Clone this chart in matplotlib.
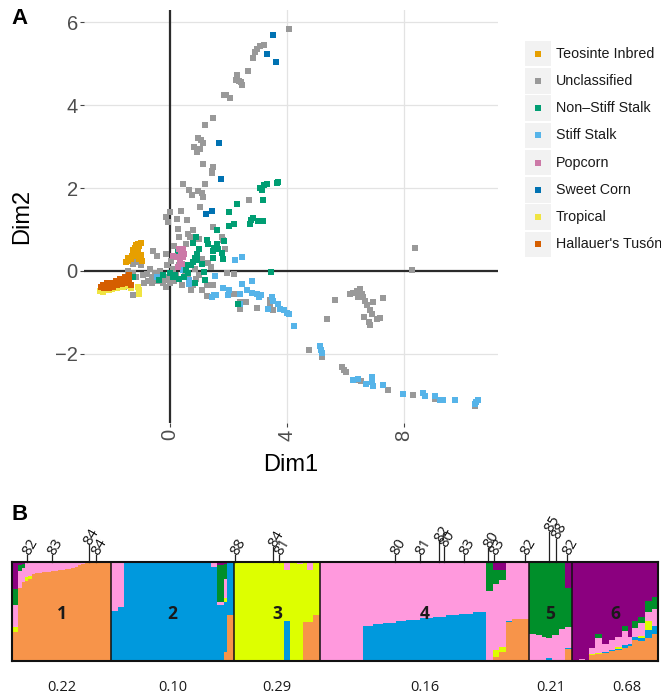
import matplotlib
matplotlib.use('Agg')
import matplotlib.pyplot as plt
from matplotlib.patches import Rectangle

plt.rcParams['font.family'] = ['Liberation Sans', 'DejaVu Sans']

# ---------------- Panel A data ----------------
categories = ["Teosinte Inbred", "Unclassified", "Non\u2013Stiff Stalk", "Stiff Stalk",
              "Popcorn", "Sweet Corn", "Tropical", "Hallauer's Tus\u00f3n"]
cat_colors = ["#E69F00", "#999999", "#009E73", "#56B4E9",
              "#CC79A7", "#0072B2", "#F0E442", "#D55E00"]

unclassified_xy = [
    (4.08, 5.83), (3.22, 5.45), (3.08, 5.42), (2.98, 5.36), (2.9, 5.28), (2.83, 5.15), (2.68, 4.83),
    (2.3, 4.72), (2.25, 4.62), (2.35, 4.58), (2.42, 4.55), (2.45, 4.48), (2.05, 4.17), (1.92, 4.24),
    (1.85, 4.25), (1.46, 3.70), (1.20, 3.52), (0.97, 3.22), (1.14, 3.08), (1.07, 3.15), (0.82, 3.0),
    (0.91, 2.88), (1.02, 2.95), (1.12, 2.59), (1.48, 2.52), (1.42, 2.36), (1.45, 2.42), (0.43, 2.11),
    (1.2, 2.11), (0.66, 1.95), (0.74, 1.83), (0.97, 1.92), (1.08, 1.88), (1.12, 1.78), (1.03, 1.55),
    (0.36, 1.45), (-0.14, 1.30), (0.0, 1.43), (-0.06, 1.18), (0.57, 1.22), (0.28, 1.02), (1.48, 1.06),
    (0.77, 0.98), (0.32, 0.82), (0.68, 0.81), (1.77, 0.81), (1.82, 0.74), (1.88, 0.52), (1.6, 0.58),
    (2.71, 1.72), (0.55, 0.65), (0.15, 0.6), (0.62, 0.9), (0.25, 1.25), (1.0, 0.78),
    (-0.59, 0.48), (-0.46, 0.36), (-0.14, 0.40), (-1.12, 0.32), (-1.08, 0.22), (-1.28, 0.18),
    (-1.0, 0.15), (-1.42, 0.0), (-1.25, -0.05), (-0.93, -0.1), (-0.8, -0.08), (-0.63, -0.14),
    (-0.5, -0.05), (-0.35, 0.0), (-0.75, -0.25), (-0.6, -0.28), (-0.4, -0.25), (-0.2, -0.22),
    (-0.14, -0.38), (-1.65, -0.22), (-1.57, -0.39), (-1.28, -0.58), (-0.9, -0.3), (-0.3, -0.1),
    (0.1, 0.05), (0.2, -0.1), (0.3, 0.15), (0.5, 0.0), (0.6, -0.1), (0.71, -0.47), (0.65, -0.3),
    (0.9, -0.2), (1.0, -0.1), (1.25, -0.35), (1.48, -0.35), (1.25, -0.6), (1.94, -0.06), (2.17, -0.08),
    (2.17, -0.55), (2.39, -0.75), (2.39, -0.91), (2.6, -0.75), (2.96, -0.89), (3.42, -0.71),
    (3.42, -0.83), (3.53, -0.95), (0.0, -0.3), (-0.1, 0.15), (0.4, -0.35), (0.85, 0.05), (1.1, 0.3),
    (1.3, 0.2), (0.05, 0.25), (-0.55, -0.2), (-0.25, -0.3), (-0.7, 0.05), (-1.15, -0.15),
    (0.15, -0.25), (0.8, -0.35), (1.1, -0.45), (-0.05, -0.15), (1.4, 0.1), (0.45, 0.35),
    (4.76, -1.90), (5.19, -2.08), (5.36, -1.15), (5.65, -0.71), (5.87, -2.32), (5.93, -2.4),
    (6.02, -2.45), (6.42, -2.62), (6.52, -2.65), (7.46, -2.87), (8.3, -3.0), (9.06, -3.08),
    (10.43, -3.27), (8.26, 0.02), (8.38, 0.56),
    (6.15, -0.55), (6.27, -0.53), (6.38, -0.48), (6.5, -0.43), (6.55, -0.55), (6.44, -0.62),
    (6.6, -0.62), (6.65, -0.72), (6.72, -0.81), (6.95, -0.75), (7.29, -0.65), (6.84, -0.95),
    (6.9, -1.05), (6.84, -1.31), (6.63, -1.11), (6.81, -1.23), (7.07, -1.15), (7.18, -1.13),
]

stiff_stalk_xy = [
    (2.22, 0.26), (2.45, 0.34), (1.54, -0.13), (1.82, -0.40), (2.03, -0.45), (1.99, -0.59),
    (2.45, -0.31), (2.81, -0.24), (2.62, -0.47), (2.79, -0.53), (2.96, -0.55), (3.05, -0.63),
    (3.12, -0.58), (3.48, -0.64), (3.52, -0.72), (3.36, -0.91), (3.70, -0.79), (3.76, -0.91),
    (3.9, -0.95), (3.99, -1.01), (4.08, -1.05), (4.24, -1.34), (2.39, -0.55), (2.39, -0.8),
    (1.5, -0.59), (1.42, -0.63), (1.58, -0.58), (0.66, -0.32), (0.66, -0.21), (0.43, 0.02),
    (-0.46, -0.14), (5.13, -1.80), (5.15, -1.90), (5.19, -1.98), (6.24, -2.64), (6.44, -2.6),
    (6.70, -2.72), (6.89, -2.56), (6.92, -2.68), (6.94, -2.78), (7.27, -2.76), (7.98, -2.96),
    (8.64, -2.95), (8.72, -3.03), (9.06, -3.03), (9.23, -3.11), (9.33, -3.11), (9.74, -3.12),
    (10.46, -3.16), (10.54, -3.12), (10.43, -3.2),
]

non_stiff_xy = [
    (3.65, 2.13), (3.68, 2.15), (3.30, 2.11), (3.21, 2.07), (3.08, 2.01), (3.14, 1.96), (3.17, 1.71),
    (2.28, 1.61), (2.03, 1.43), (2.03, 1.08), (2.17, 1.13), (2.76, 1.22), (2.85, 1.29), (3.02, 1.21),
    (3.17, 1.21), (2.73, 1.13), (1.62, 0.98), (1.85, 0.72), (1.6, 0.66), (1.31, 0.64), (1.5, 0.56),
    (1.65, 0.54), (1.48, 0.48), (1.76, 0.44), (1.82, 0.30), (1.46, 0.32), (0.89, 0.82), (0.77, 0.68),
    (1.0, 0.54), (0.91, 0.42), (0.85, 0.32), (0.93, 0.26), (0.77, 0.22), (0.71, 0.14), (0.57, 0.14),
    (0.55, 0.02), (0.63, -0.06), (0.48, -0.14), (0.32, -0.19), (0.11, -0.14), (0.17, -0.1),
    (0.0, -0.06), (0.28, 0.46), (-0.23, -0.1), (-0.36, -0.21), (-1.28, -0.14), (0.85, -0.29),
    (1.2, -0.21), (1.16, -0.02), (3.44, -0.02), (2.34, -0.79), (0.4, 0.18), (1.08, 0.18), (1.25, 0.74),
]

popcorn_xy = [
    (0.32, 0.54), (0.43, 0.52), (0.36, 0.42), (0.48, 0.42), (0.11, 0.35), (0.25, 0.33),
    (0.34, 0.25), (0.40, 0.16), (0.28, 0.10), (0.44, 0.33),
]

sweet_corn_xy = [
    (3.51, 5.69), (3.33, 5.23), (3.62, 5.05), (1.69, 3.09), (1.73, 2.21), (1.42, 1.45), (1.23, 1.38),
]

tropical_xy = [
    (-2.38, -0.48), (-2.3, -0.5), (-2.2, -0.47), (-2.1, -0.46), (-2.0, -0.44), (-1.9, -0.42),
    (-1.8, -0.4), (-1.6, -0.38), (-1.45, -0.36), (-1.35, -0.42), (-1.05, -0.45), (-1.05, -0.55),
    (-1.08, -0.38), (-2.25, -0.44),
]

teosinte_xy = [
    (-1.0, 0.68), (-1.08, 0.66), (-1.15, 0.62), (-1.2, 0.55), (-1.12, 0.55), (-1.05, 0.6),
    (-1.25, 0.45), (-1.18, 0.42), (-1.3, 0.35), (-1.35, 0.3), (-1.45, 0.25), (-1.52, 0.22),
    (-1.42, 0.32), (-1.22, 0.35), (-1.28, 0.5), (-1.1, 0.45), (-1.05, 0.3), (-0.95, 0.25), (-1.0, 0.38),
]

tuson_xy = [
    (-2.35, -0.38), (-2.3, -0.33), (-2.2, -0.35), (-2.15, -0.3), (-2.05, -0.32), (-2.0, -0.28),
    (-1.9, -0.3), (-1.85, -0.25), (-1.75, -0.27), (-1.7, -0.2), (-1.6, -0.22), (-1.55, -0.15),
    (-1.45, -0.18), (-1.4, -0.25), (-1.5, -0.3), (-1.65, -0.32), (-1.8, -0.35), (-1.95, -0.38),
    (-2.1, -0.4), (-2.25, -0.42), (-1.4, -0.1), (-1.35, -0.35),
]

x_ticks = [0, 4, 8]
y_ticks = [-2, 0, 2, 4, 6]

# ---------------- Panel B data ----------------
# each run: (number of individuals, orange, blue, yellow, pink, green, purple)
cluster_colors = ["#F7944A", "#0099DD", "#DDFF00", "#FF99DD", "#008F2A", "#8B007F"]

group1_runs = [
    (2, .29, 0, .05, .23, .16, .27), (1, .74, 0, 0, .17, .06, .03), (1, .80, 0, 0, .14, .04, .02),
    (1, .81, 0, .04, .15, 0, 0), (1, .83, 0, .03, .14, 0, 0), (1, .88, 0, 0, .12, 0, 0),
    (1, .885, 0, 0, .115, 0, 0), (1, .89, 0, 0, .11, 0, 0), (1, .895, 0, 0, .105, 0, 0),
    (2, .90, 0, 0, .10, 0, 0), (1, .905, 0, 0, .095, 0, 0), (1, .91, 0, 0, .09, 0, 0),
    (1, .915, 0, 0, .085, 0, 0), (1, .92, 0, 0, .08, 0, 0), (1, .925, 0, 0, .075, 0, 0),
    (1, .93, 0, 0, .07, 0, 0), (1, .94, 0, 0, .06, 0, 0), (1, .95, 0, 0, .05, 0, 0),
    (1, .965, 0, 0, .035, 0, 0), (1, .98, 0, 0, .02, 0, 0), (1, .99, 0, 0, .01, 0, 0),
    (7, 1, 0, 0, 0, 0, 0),
]
group2_runs = [
    (2, 0, .51, 0, .49, 0, 0), (2, 0, .55, 0, .45, 0, 0), (26, 0, 1, 0, 0, 0, 0),
    (2, 0, .95, 0, .05, 0, 0), (2, 0, .57, 0, .03, .37, .03), (1, .09, .51, .04, .19, .15, .02),
    (2, .46, .54, 0, 0, 0, 0),
]
group3_runs = [
    (15, 0, 0, 1, 0, 0, 0), (2, 0, .40, .515, .085, 0, 0), (2, 0, 0, 1, 0, 0, 0),
    (2, 0, 0, .98, .02, 0, 0), (1, .39, 0, .61, 0, 0, 0), (2, .39, 0, .525, .085, 0, 0),
    (2, .46, 0, .54, 0, 0, 0),
]
group4_runs = [
    (13, 0, 0, 0, 1, 0, 0), (3, 0, .35, 0, .65, 0, 0), (3, 0, .37, 0, .63, 0, 0),
    (4, 0, .38, 0, .62, 0, 0), (3, 0, .40, 0, .60, 0, 0), (4, 0, .41, 0, .59, 0, 0),
    (4, 0, .43, 0, .57, 0, 0), (4, 0, .44, 0, .56, 0, 0), (4, 0, .46, 0, .54, 0, 0),
    (4, 0, .47, 0, .53, 0, 0), (4, 0, .49, 0, .51, 0, 0), (2, 0, 0, 0, .71, .29, 0),
    (2, .045, 0, .07, .665, .14, .08), (2, .095, 0, .045, .68, .10, .08),
    (2, .39, .01, 0, .60, 0, 0), (5, .42, 0, 0, .58, 0, 0),
]
group5_runs = [
    (2, 0, 0, 0, .27, .73, 0), (2, 0, 0, 0, .26, .74, 0), (1, 0, 0, 0, .24, .76, 0),
    (2, 0, .035, 0, .195, .77, 0), (2, 0, 0, 0, .26, .74, 0), (2, 0, 0, 0, .32, .68, 0),
    (2, .12, .015, 0, .21, .39, .265),
]
group6_runs = [
    (2, 0, 0, 0, 0, 0, 1), (2, 0, 0, 0, .02, 0, .98), (1, 0, 0, 0, 0, 0, 1),
    (2, .06, 0, .01, .06, 0, .87), (2, .07, 0, .01, .15, .04, .73), (2, .085, .01, 0, .075, 0, .83),
    (2, .10, .015, 0, .10, 0, .785), (2, .11, .015, .015, .10, 0, .76),
    (2, .13, .03, 0, .145, .045, .65), (1, .15, .02, 0, .07, 0, .76),
    (2, .21, .035, 0, .085, .07, .60), (2, .20, .035, .02, .125, .06, .56),
    (2, .23, .085, .085, .095, .115, .39), (2, .27, .085, 0, .175, .115, .355),
]
group_names = ["1", "2", "3", "4", "5", "6"]
fst_values = ["0.22", "0.10", "0.29", "0.16", "0.21", "0.68"]
fst_shift = [0, 0, 0, 0, 0, 3.6]

tick_labels = ["82", "83", "84", "84", "88", "84", "81", "80", "81", "82", "80", "83", "80", "83",
               "82", "85", "88", "82"]
tick_pos = [4.6, 12.1, 23.2, 25.4, 67.3, 78.8, 80.7, 115.7, 123.1, 128.9, 130.4, 136.4, 143.6,
            145.5, 154.8, 162.0, 164.1, 167.6]
tick_len = [7, 7, 17, 7, 7, 15, 7, 7, 7, 20, 15, 7, 14, 7, 7, 30, 23, 7]

# ---------------- Figure ----------------
W, H = 661, 697
fig = plt.figure(figsize=(W / 100, H / 100), dpi=100)


def px_axes(l, t, r, b):
    return fig.add_axes([l / W, 1 - b / H, (r - l) / W, (b - t) / H])


axA = px_axes(84, 10, 498, 423)
axA.set_xlim(-2.94, 11.21)
axA.set_ylim(-3.67, 6.30)
axA.set_xticks(x_ticks)
axA.set_yticks(y_ticks)
axA.grid(True, color="#E3E3E3", lw=0.9)
axA.set_axisbelow(True)
for s in axA.spines.values():
    s.set_visible(False)
axA.axhline(0, color="#2b2b2b", lw=1.6, zorder=1)
axA.axvline(0, color="#2b2b2b", lw=1.6, zorder=1)
axA.tick_params(axis="both", length=3, width=0.8, color="#444444", labelcolor="#4D4D4D",
                labelsize=14.5, pad=1.5)
axA.tick_params(axis="x", labelrotation=90)

series = [unclassified_xy, stiff_stalk_xy, non_stiff_xy, popcorn_xy, sweet_corn_xy,
          tropical_xy, teosinte_xy, tuson_xy]
series_cat = [1, 3, 2, 4, 5, 6, 0, 7]
for pts, ci in zip(series, series_cat):
    xs = [p[0] for p in pts]
    ys = [p[1] for p in pts]
    axA.scatter(xs, ys, marker="s", s=20, c=cat_colors[ci], linewidths=0, zorder=3)

fig.text(291 / W, 1 - 465 / H, "Dim1", ha="center", va="center", fontsize=17)
fig.text(22 / W, 1 - 216 / H, "Dim2", ha="center", va="center", fontsize=17, rotation=90)
fig.text(20 / W, 1 - 18 / H, "A", ha="center", va="center", fontsize=16, fontweight="bold")
fig.text(20 / W, 1 - 515 / H, "B", ha="center", va="center", fontsize=16, fontweight="bold")

# legend
axL = px_axes(525, 40, 661, 258)
axL.set_xlim(0, 136)
axL.set_ylim(len(categories), 0)
axL.axis("off")
for i, (cat, col) in enumerate(zip(categories, cat_colors)):
    axL.add_patch(Rectangle((0, i + 0.03), 26, 0.94, color="#F2F2F2", lw=0))
    axL.scatter([13], [i + 0.5], marker="s", s=17, c=col, linewidths=0)
    axL.text(31, i + 0.5, cat, va="center", ha="left", fontsize=10.3, color="#1a1a1a")

# ---------------- Panel B ----------------
axB = px_axes(11.7, 562, 658.3, 661)
groups = [group1_runs, group2_runs, group3_runs, group4_runs, group5_runs, group6_runs]
x0 = 0
bounds = [0]
for runs in groups:
    for run in runs:
        n = run[0]
        fr = run[1:]
        tot = sum(fr)
        for k in range(n):
            bottom = 0.0
            for val, col in zip(fr, cluster_colors):
                if val > 0:
                    axB.bar(x0, val / tot, bottom=bottom, width=1, align="edge", color=col,
                            linewidth=0, antialiased=False)
                bottom += val / tot
            x0 += 1
    bounds.append(x0)

axB.set_xlim(0, bounds[-1])
axB.set_ylim(0, 1)
axB.set_xticks([])
axB.set_yticks([])
for s in axB.spines.values():
    s.set_linewidth(1.5)
    s.set_color("#111111")
for b in bounds[1:-1]:
    axB.axvline(b, color="#111111", lw=1.1)

fontB = ["Open Sans", "DejaVu Sans"]
for i, name in enumerate(group_names):
    cx = (bounds[i] + bounds[i + 1]) / 2
    axB.text(cx, 0.47, name, ha="center", va="center", fontsize=12.5, fontweight="bold",
             color="#1a1a1a", family=fontB)
    axB.text(cx + fst_shift[i], -0.27, fst_values[i], ha="center", va="center", fontsize=10.5,
             color="#1a1a1a", family=fontB, transform=axB.get_xaxis_transform())

trans = axB.get_xaxis_transform()
bar_h = 99.0
for x, lab, L in zip(tick_pos, tick_labels, tick_len):
    top = 1 + L / bar_h
    axB.plot([x, x], [1, top], color="#222222", lw=0.9, transform=trans, clip_on=False)
    axB.text(x - 0.3, top + 0.8 / bar_h, lab, rotation=60, rotation_mode="anchor", ha="left",
             va="center", fontsize=10.5, color="#111111", family=fontB, transform=trans)

fig.savefig("out.png", dpi=100)
